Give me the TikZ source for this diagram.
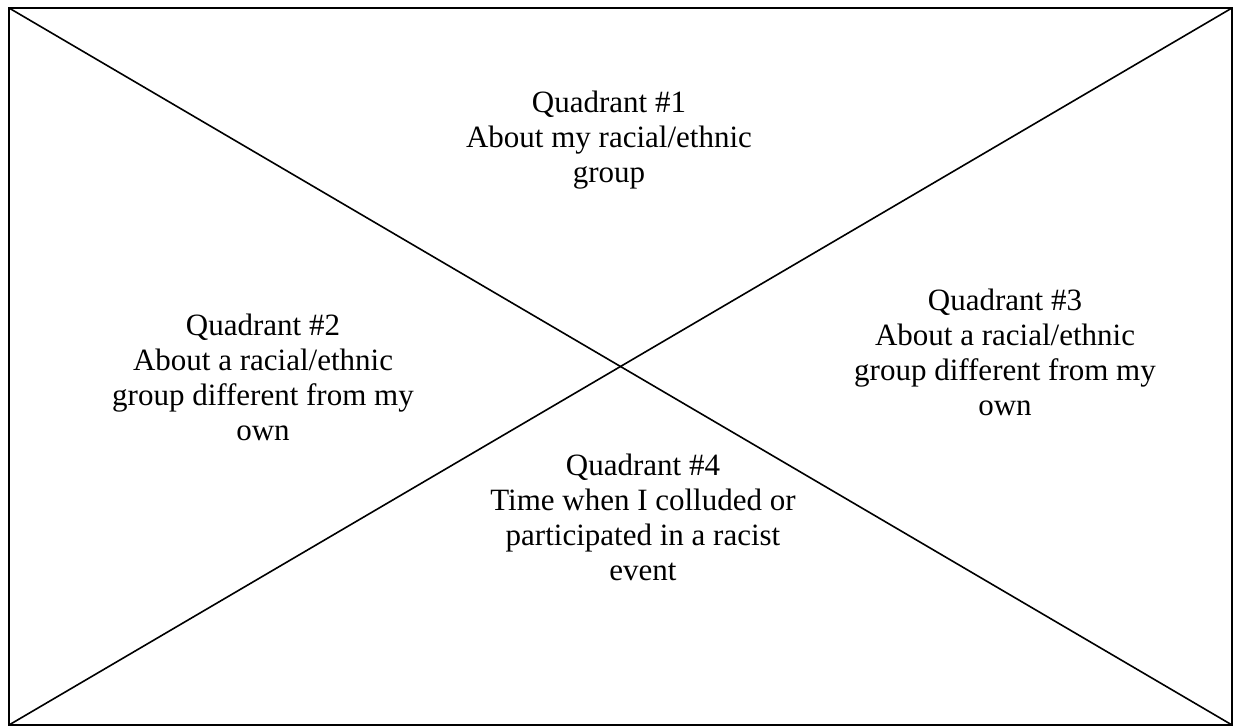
\documentclass[tikz,border=0pt]{standalone}
\usepackage{fontspec}
\setmainfont{Liberation Serif}
\begin{document}
\begin{tikzpicture}[x=1pt,y=1pt,
  edge/.style={line width=1.6pt,black},
  qtext/.style={align=center,inner sep=0pt,font=\fontsize{31}{35}\selectfont}]
\useasboundingbox (0,0) rectangle (1234,727);
\coordinate (tl) at (9,719);
\coordinate (tr) at (1232,719);
\coordinate (bl) at (9,2);
\coordinate (br) at (1232,2);
\draw[edge] (tl) -- (tr) -- (br) -- (bl) -- cycle;
\draw[edge] (tl) -- (br);
\draw[edge] (bl) -- (tr);
\node[qtext] (q1) at (609,587) {Quadrant \#1\\About my racial/ethnic\\group};
\node[qtext] (q2) at (263,349.5) {Quadrant \#2\\About a racial/ethnic\\group different from my\\own};
\node[qtext] (q3) at (1005,374.5) {Quadrant \#3\\About a racial/ethnic\\group different from my\\own};
\node[qtext] (q4) at (643,209.5) {Quadrant \#4\\Time when I colluded or\\participated in a racist\\event};
\end{tikzpicture}
\end{document}
